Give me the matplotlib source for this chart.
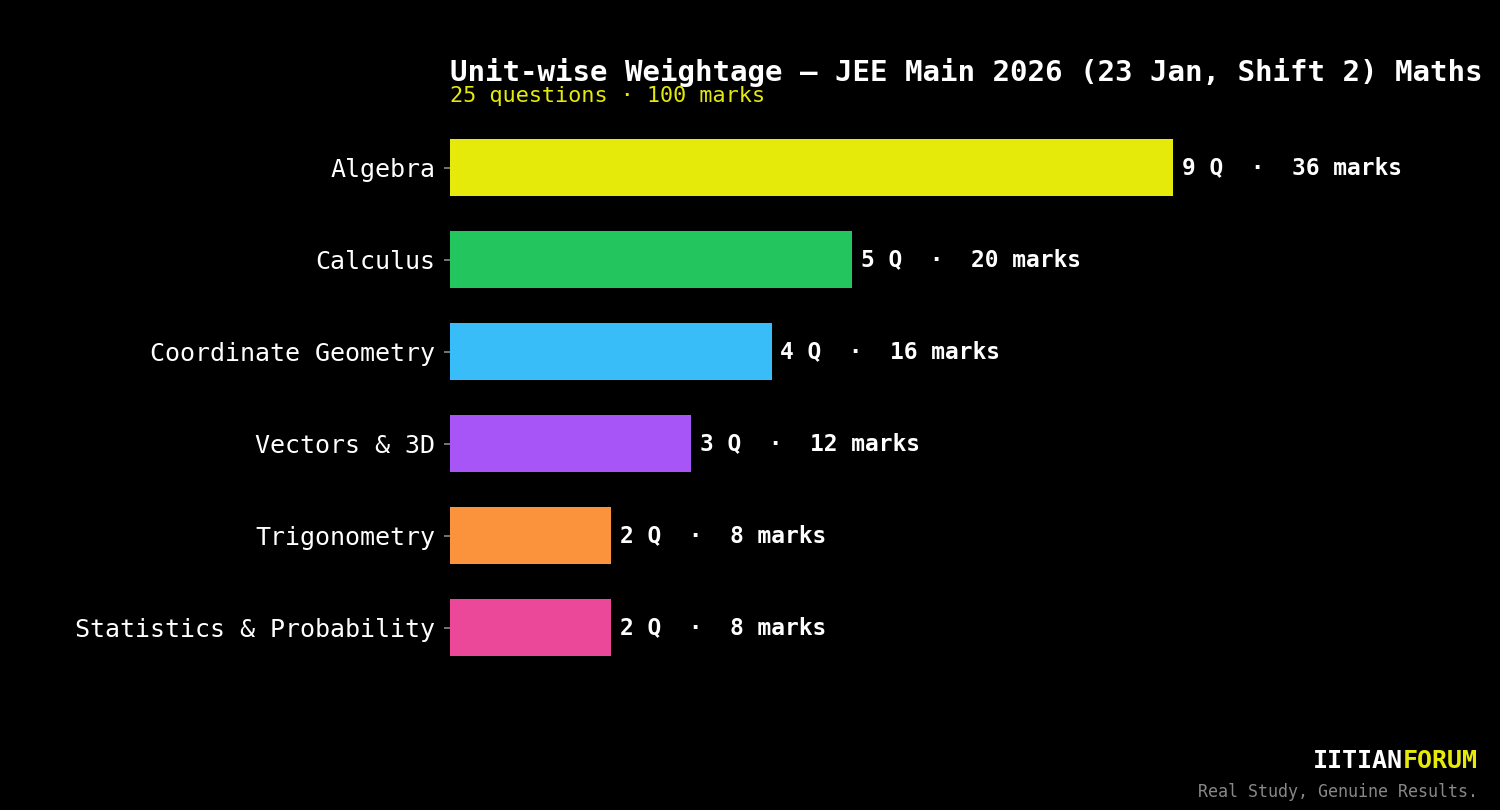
import matplotlib.pyplot as plt

# dados do gráfico
units = ['Algebra', 'Calculus', 'Coordinate Geometry', 'Vectors & 3D',
         'Trigonometry', 'Statistics & Probability']
questions = [9, 5, 4, 3, 2, 2]
marks = [36, 20, 16, 12, 8, 8]
colors = ['#E6EA0A', '#22C55E', '#38BDF8', '#A855F7', '#FB923C', '#EC4899']

plt.rcParams['font.family'] = 'DejaVu Sans Mono'

fig = plt.figure(figsize=(10, 5.4), dpi=150, facecolor='black')
ax = fig.add_axes([0.3, 0.1578, 0.627, 0.702])
ax.set_facecolor('black')

ypos = list(range(len(units)))
ax.barh(ypos, questions, height=0.62, color=colors)
ax.set_yticks(ypos)
ax.set_yticklabels(units, color='white', fontsize=12)
ax.invert_yaxis()
ax.set_xlim(0, 11.7)
ax.set_xticks([])
ax.tick_params(axis='y', colors='#888888', length=3, pad=4, labelcolor='white')
for s in ax.spines.values():
    s.set_visible(False)

for y, q, m in zip(ypos, questions, marks):
    ax.text(q + 0.11, y, f'{q} Q  ·  {m} marks', va='center', ha='left',
            color='white', fontsize=11, fontweight='bold')

fig.text(0.3, 0.911, 'Unit-wise Weightage — JEE Main 2026 (23 Jan, Shift 2) Maths',
         color='white', fontsize=14, fontweight='bold', va='center', ha='left')
fig.text(0.3, 0.8818, '25 questions · 100 marks', color='#E6EA0A', fontsize=10.5,
         va='center', ha='left')

# marca d'água
t = fig.text(0.9853, 0.0605, 'FORUM', color='#E6EA0A', fontsize=12,
             fontweight='bold', va='center', ha='right')
fig.canvas.draw()
bb = t.get_window_extent()
x0 = bb.x0 / fig.bbox.width
fig.text(x0, 0.0605, 'IITIAN', color='white', fontsize=12, fontweight='bold',
         va='center', ha='right')
fig.text(0.9853, 0.0223, 'Real Study, Genuine Results.', color='#888888',
         fontsize=8, va='center', ha='right')

fig.savefig('out.png', dpi=150, facecolor='black')
